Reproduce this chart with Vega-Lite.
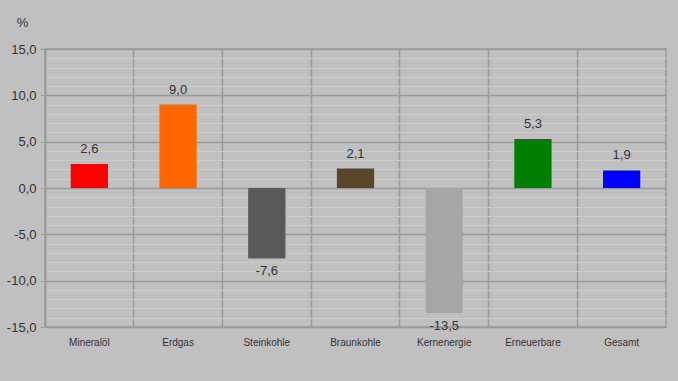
{
  "$schema": "https://vega.github.io/schema/vega-lite/v6.json",
  "width": 621,
  "height": 278,
  "autosize": {"type": "none"},
  "padding": {"left": 45, "top": 49, "right": 12, "bottom": 54},
  "background": "#c0c0c0",
  "config": {
    "view": {"stroke": "#9a9a9a", "strokeWidth": 1.5},
    "font": "Liberation Sans",
    "locale": {"number": {"decimal": ",", "thousands": ".", "grouping": [3], "currency": ["", " €"], "minus": "-"}}
  },
  "data": {
    "values": [
      {"cat": "Mineralöl", "v": 2.6, "color": "#ff0000"},
      {"cat": "Erdgas", "v": 9.0, "color": "#ff6600"},
      {"cat": "Steinkohle", "v": -7.6, "color": "#595959"},
      {"cat": "Braunkohle", "v": 2.1, "color": "#584628"},
      {"cat": "Kernenergie", "v": -13.5, "color": "#a6a6a6"},
      {"cat": "Erneuerbare", "v": 5.3, "color": "#008000"},
      {"cat": "Gesamt", "v": 1.9, "color": "#0000ff"}
    ]
  },
  "encoding": {
    "x": {
      "field": "cat",
      "type": "nominal",
      "sort": null,
      "scale": {"paddingInner": 0, "paddingOuter": 0},
      "axis": {
        "title": null,
        "labelAngle": 0,
        "labelFontSize": 10,
        "labelColor": "#333333",
        "labelPadding": 10,
        "ticks": false,
        "domain": false,
        "grid": true,
        "bandPosition": 0,
        "gridColor": "#9a9a9a",
        "gridWidth": 1.5
      }
    },
    "y": {
      "field": "v",
      "type": "quantitative",
      "scale": {"domain": [-15, 15], "nice": false},
      "axis": {
        "title": "%",
        "titleAngle": 0,
        "titleX": -23,
        "titleY": -27,
        "titleAlign": "center",
        "titleBaseline": "middle",
        "titleFontSize": 13,
        "titleFontWeight": "normal",
        "titleColor": "#333333",
        "values": [-15,-14,-13,-12,-11,-10,-9,-8,-7,-6,-5,-4,-3,-2,-1,0,1,2,3,4,5,6,7,8,9,10,11,12,13,14,15],
        "labelExpr": "datum.value % 5 === 0 ? format(datum.value, '.1f') : ''",
        "labelFontSize": 13,
        "labelColor": "#333333",
        "labelPadding": 4,
        "tickSize": 5,
        "tickColor": {"condition": {"test": "datum.value % 5 === 0", "value": "#9a9a9a"}, "value": "transparent"},
        "domainColor": "#9a9a9a",
        "domainWidth": 1.5,
        "grid": true,
        "gridColor": {"condition": {"test": "datum.value % 5 === 0", "value": "#9a9a9a"}, "value": "#cbcbcb"},
        "gridWidth": {"condition": {"test": "datum.value % 5 === 0", "value": 1.5}, "value": 1}
      }
    }
  },
  "layer": [
    {
      "mark": {"type": "bar", "width": {"band": 0.42}},
      "encoding": {
        "color": {"field": "color", "type": "nominal", "scale": null, "legend": null}
      }
    },
    {
      "transform": [{"filter": "datum.v >= 0"}],
      "mark": {"type": "text", "baseline": "middle", "fontSize": 13, "color": "#333333", "dy": -15},
      "encoding": {
        "text": {"field": "v", "type": "quantitative", "format": ".1f"}
      }
    },
    {
      "transform": [{"filter": "datum.v < 0"}],
      "mark": {"type": "text", "baseline": "middle", "fontSize": 13, "color": "#333333", "dy": 13},
      "encoding": {
        "text": {"field": "v", "type": "quantitative", "format": ".1f"}
      }
    }
  ]
}
